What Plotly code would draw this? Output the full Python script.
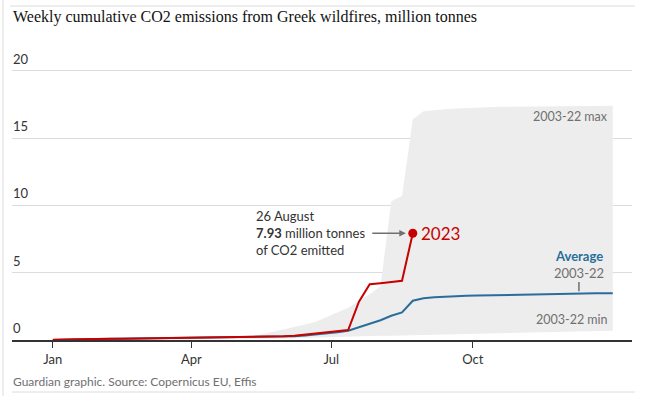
import pandas as pd
import plotly.graph_objects as go

# ---------------- data ----------------
week_start = "2023-01-04"   # weekly points (mid-week)
year_start = "2023-01-01"
year_end = "2023-12-31"

red_2023 = [0.03, 0.05, 0.06, 0.07, 0.08, 0.09, 0.10, 0.11, 0.12, 0.12, 0.13, 0.13,
            0.14, 0.15, 0.16, 0.17, 0.18, 0.19, 0.20, 0.22, 0.25, 0.28, 0.32, 0.40,
            0.50, 0.58, 0.66, 0.74, 2.85, 4.14, 4.22, 4.30, 4.40, 7.93]

avg_0322 = [0.02, 0.04, 0.05, 0.06, 0.07, 0.08, 0.09, 0.10, 0.11, 0.11, 0.12, 0.12,
            0.13, 0.14, 0.15, 0.16, 0.17, 0.18, 0.19, 0.20, 0.22, 0.25, 0.28, 0.33,
            0.40, 0.48, 0.58, 0.69, 0.94, 1.20, 1.47, 1.80, 2.05, 2.92, 3.10, 3.17,
            3.22, 3.25, 3.28, 3.30, 3.32, 3.34, 3.36, 3.38, 3.40, 3.42, 3.43, 3.45,
            3.46, 3.47, 3.47, 3.47]

max_0322 = [0.03, 0.05, 0.07, 0.08, 0.09, 0.10, 0.11, 0.12, 0.13, 0.14, 0.15, 0.16,
            0.17, 0.18, 0.19, 0.20, 0.21, 0.23, 0.26, 0.42, 0.60, 0.75, 0.95, 1.15,
            1.35, 1.70, 2.10, 2.40, 2.90, 3.40, 4.00, 10.30, 10.70, 16.40, 17.00, 17.10,
            17.15, 17.20, 17.25, 17.30, 17.30, 17.32, 17.33, 17.34, 17.35, 17.35, 17.36, 17.37,
            17.38, 17.38, 17.39, 17.40]

min_0322 = [0.00, 0.00, 0.00, 0.00, 0.00, 0.00, 0.01, 0.01, 0.01, 0.01, 0.02, 0.02,
            0.02, 0.03, 0.03, 0.04, 0.04, 0.05, 0.06, 0.07, 0.09, 0.11, 0.13, 0.15,
            0.18, 0.21, 0.24, 0.26, 0.28, 0.30, 0.31, 0.32, 0.33, 0.35, 0.37, 0.39,
            0.41, 0.43, 0.45, 0.47, 0.49, 0.51, 0.53, 0.55, 0.57, 0.59, 0.61, 0.63,
            0.64, 0.66, 0.67, 0.68]

y_ticks = [0, 5, 10, 15, 20]
x_tick_dates = ["2023-01-01", "2023-04-01", "2023-07-01", "2023-10-01"]
x_tick_labels = ["Jan", "Apr", "Jul", "Oct"]

title_text = "Weekly cumulative CO2 emissions from Greek wildfires, million tonnes"
source_text = "Guardian graphic. Source: Copernicus EU, Effis"

# ---------------- geometry helpers (plot area in pixels) ----------------
W_FIG, H_FIG = 657, 396
M_L, M_R, M_T, M_B = 12, 25, 0, 56
PW = W_FIG - M_L - M_R
PH = H_FIG - M_T - M_B


def px(X):
    return (X - M_L) / PW


def py(Y):
    return (M_T + PH - Y) / PH


# ---------------- build x dates ----------------
def weekly(n):
    return list(pd.date_range(week_start, periods=n, freq="7D"))


band_x = [pd.Timestamp(year_start)] + weekly(len(max_0322)) + [pd.Timestamp(year_end)]
band_max = [0] + max_0322 + [max_0322[-1]]
band_min = [0] + min_0322 + [min_0322[-1]]
avg_x = band_x
avg_y = [0] + avg_0322 + [avg_0322[-1]]
red_x = [pd.Timestamp(year_start)] + weekly(len(red_2023))
red_y = [0.02] + red_2023

RED = "#c70000"
BLUE = "#2a6d9a"
BAND = "#ededed"
GRID = "#dcdcdc"
TXT = "#333333"
GRAY = "#707070"
SANS = "Lato, 'Noto Sans', sans-serif"

fig = go.Figure()
fig.add_trace(go.Scatter(x=band_x, y=band_min, mode="lines", line=dict(width=0),
                         hoverinfo="skip", showlegend=False))
fig.add_trace(go.Scatter(x=band_x, y=band_max, mode="lines", line=dict(width=0),
                         fill="tonexty", fillcolor=BAND, hoverinfo="skip", showlegend=False))
fig.add_trace(go.Scatter(x=avg_x, y=avg_y, mode="lines", line=dict(color=BLUE, width=2),
                         showlegend=False))
fig.add_trace(go.Scatter(x=red_x, y=red_y, mode="lines", line=dict(color=RED, width=2),
                         showlegend=False))
fig.add_trace(go.Scatter(x=[red_x[-1]], y=[red_y[-1]], mode="markers",
                         marker=dict(color=RED, size=9), showlegend=False))

end_x = red_x[-1]
end_y = red_y[-1]

annotations = [
    dict(x=end_x, y=end_y, xref="x", yref="y", text="", showarrow=True,
         ax=-42, ay=0, axref="pixel", ayref="pixel", standoff=7,
         arrowhead=2, arrowsize=1, arrowwidth=1.3, arrowcolor=GRAY),
    dict(x=end_x, y=end_y, xref="x", yref="y", text="2023", showarrow=False,
         xanchor="left", yanchor="middle", xshift=6,
         font=dict(family=SANS, size=17, color=RED)),
    dict(x=end_x, y=end_y, xref="x", yref="y",
         text="26 August<br><b>7.93</b> million tonnes<br>of CO2 emitted",
         showarrow=False, xanchor="right", yanchor="middle", align="left",
         xshift=-46, yshift=0,
         font=dict(family=SANS, size=13, color=TXT)),
    dict(x="2023-12-29", y=16.64, xref="x", yref="y", text="2003-22 max",
         showarrow=False, xanchor="right", yanchor="middle",
         font=dict(family=SANS, size=12.5, color=GRAY)),
    dict(x="2023-12-29", y=1.54, xref="x", yref="y", text="2003-22 min",
         showarrow=False, xanchor="right", yanchor="middle",
         font=dict(family=SANS, size=12.5, color=GRAY)),
    dict(x="2023-12-09", y=(340 - 256) / 13.46, xref="x", yref="y", text="<b>Average</b>",
         showarrow=False, xanchor="center", yanchor="middle",
         font=dict(family=SANS, size=13, color=BLUE)),
    dict(x="2023-12-09", y=(340 - 273) / 13.46, xref="x", yref="y", text="2003-22",
         showarrow=False, xanchor="center", yanchor="middle", bgcolor=BAND,
         borderpad=0,
         font=dict(family=SANS, size=13, color=GRAY)),
    dict(x=px(11), y=py(17), xref="paper", yref="paper", text=title_text,
         showarrow=False, xanchor="left", yanchor="middle",
         font=dict(family="'Liberation Serif', 'DejaVu Serif', serif", size=16, color="#121212")),
    dict(x=px(11), y=py(381), xref="paper", yref="paper", text=source_text,
         showarrow=False, xanchor="left", yanchor="middle",
         font=dict(family=SANS, size=12, color=GRAY)),
]
for v in y_ticks:
    annotations.append(dict(x=px(11), y=v, xref="paper", yref="y", text=str(v),
                            showarrow=False, xanchor="left", yanchor="bottom",
                            yshift=2, font=dict(family=SANS, size=13, color=TXT)))

shapes = [
    dict(type="line", xref="x", yref="y", x0="2023-12-09", x1="2023-12-09",
         y0=3.62, y1=4.3, line=dict(color=GRAY, width=1.5)),
    dict(type="line", xref="paper", yref="paper", x0=px(10), x1=px(635),
         y0=py(6), y1=py(6), line=dict(color=GRID, width=1)),
    dict(type="line", xref="paper", yref="paper", x0=px(12), x1=px(635),
         y0=py(392), y1=py(392), line=dict(color=GRID, width=1)),
    dict(type="line", xref="paper", yref="paper", x0=px(3), x1=px(3),
         y0=py(396), y1=py(0), line=dict(color=GRID, width=1)),
]

fig.update_layout(
    width=W_FIG, height=H_FIG,
    margin=dict(l=M_L, r=M_R, t=M_T, b=M_B, autoexpand=False),
    paper_bgcolor="white", plot_bgcolor="white",
    annotations=annotations, shapes=shapes,
    xaxis=dict(
        type="date",
        range=["2022-12-05 11:00", "2024-01-12 12:00"],
        tickvals=x_tick_dates, ticktext=x_tick_labels,
        ticks="outside", ticklen=6, tickcolor=TXT, tickwidth=1,
        showgrid=False, zeroline=False, showline=True, linecolor=TXT, linewidth=2,
        tickfont=dict(family=SANS, size=13, color=TXT),
        fixedrange=True,
    ),
    yaxis=dict(
        range=[0, PH / 13.46],
        tickvals=y_ticks, showticklabels=False,
        showgrid=True, gridcolor=GRID, gridwidth=1,
        zeroline=False, showline=False, fixedrange=True,
    ),
    showlegend=False,
)

fig.write_html("out.html", config={"displayModeBar": False},
               post_script="document.body.style.margin='0';document.body.style.padding='0';")
